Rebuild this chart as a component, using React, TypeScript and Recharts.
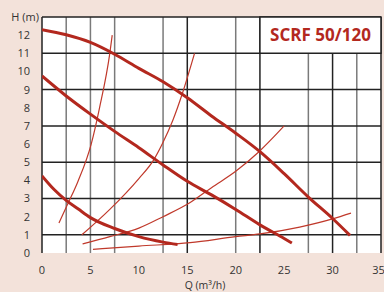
import React from "react";
import {
  LineChart,
  Line,
  XAxis,
  YAxis,
  CartesianGrid,
  ReferenceArea,
} from "recharts";

// pump curves (Q m3/h, H m)
const curveHigh = [
  { q: 0, h: 12.3 }, { q: 2.5, h: 12.02 }, { q: 5, h: 11.6 }, { q: 7.5, h: 10.95 },
  { q: 10, h: 10.17 }, { q: 12.5, h: 9.43 }, { q: 15, h: 8.55 }, { q: 17.5, h: 7.55 },
  { q: 20, h: 6.6 }, { q: 22.5, h: 5.58 }, { q: 25, h: 4.37 }, { q: 27.5, h: 3.08 },
  { q: 30, h: 1.9 }, { q: 31.8, h: 0.97 },
];
const curveMid = [
  { q: 0, h: 9.75 }, { q: 2.5, h: 8.65 }, { q: 5, h: 7.65 }, { q: 7.5, h: 6.7 },
  { q: 10, h: 5.8 }, { q: 12.5, h: 4.85 }, { q: 15, h: 3.95 }, { q: 17.5, h: 3.2 },
  { q: 20, h: 2.4 }, { q: 22.5, h: 1.55 }, { q: 25, h: 0.8 }, { q: 25.8, h: 0.55 },
];
const curveLow = [
  { q: 0, h: 4.25 }, { q: 1.25, h: 3.5 }, { q: 2.5, h: 2.9 }, { q: 3.75, h: 2.42 },
  { q: 5, h: 1.95 }, { q: 7.5, h: 1.35 }, { q: 10, h: 0.9 }, { q: 12.5, h: 0.6 },
  { q: 14, h: 0.47 },
];

// system curves
const sysA = [
  { q: 1.75, h: 1.65 }, { q: 2.7, h: 2.75 }, { q: 3.7, h: 3.93 }, { q: 5.08, h: 6.0 },
  { q: 5.94, h: 8.0 }, { q: 7.0, h: 11.0 }, { q: 7.25, h: 12.0 },
];
const sysB = [
  { q: 4.12, h: 1.0 }, { q: 7, h: 2.4 }, { q: 10, h: 4.1 }, { q: 11.5, h: 5.1 },
  { q: 12.5, h: 6.1 }, { q: 13.5, h: 7.3 }, { q: 14.5, h: 8.8 }, { q: 15.75, h: 11.0 },
];
const sysC = [
  { q: 4.19, h: 0.5 }, { q: 7, h: 0.9 }, { q: 10, h: 1.37 }, { q: 12.5, h: 2.0 },
  { q: 15.3, h: 2.78 }, { q: 17.5, h: 3.6 }, { q: 20, h: 4.5 }, { q: 22.4, h: 5.58 },
  { q: 25, h: 7.0 },
];
const sysD = [
  { q: 5.26, h: 0.2 }, { q: 10, h: 0.38 }, { q: 15.3, h: 0.57 }, { q: 20, h: 0.9 },
  { q: 22.5, h: 1.05 }, { q: 26.6, h: 1.43 }, { q: 30, h: 1.88 }, { q: 31.9, h: 2.2 },
];

const xTicks = [0, 5, 10, 15, 20, 25, 30, 35];
const yTicks = [0, 1, 2, 3, 4, 5, 6, 7, 8, 9, 10, 11, 12];
const hLines = [0, 1, 2, 3, 4, 5, 6, 7, 8, 9, 10, 11, 12, 13];
const vLinesGray = [2.5, 5, 7.5, 10, 12.5, 17.5, 20, 25, 27.5, 32.5];
const vLinesDark = [0, 15, 22.5, 30, 35];

const RED = "#b3281e";
const THIN = "#c0392b";
const FONT = "'Open Sans', sans-serif";

export default function App() {
  const tick = { fontSize: 11, fill: "#333", fontFamily: FONT };
  const pumpLines = [curveHigh, curveMid, curveLow];
  const sysLines = [sysA, sysB, sysC, sysD];
  return (
    <div style={{ position: "absolute", left: 0, top: 0, width: 384, height: 292, background: "#f3e2da" }}>
      <LineChart width={384} height={292} margin={{ top: 17, right: 3, bottom: 9, left: 12 }}>
        <CartesianGrid
          fill="#fff"
          stroke="#7a7a7a"
          strokeWidth={1.5}
          horizontal={false}
          verticalValues={vLinesGray}
        />
        <CartesianGrid
          stroke="#222"
          strokeWidth={1.5}
          horizontalValues={hLines}
          verticalValues={vLinesDark}
        />
        <XAxis
          type="number"
          dataKey="q"
          domain={[0, 35]}
          ticks={xTicks}
          axisLine={false}
          tickLine={false}
          tickMargin={7}
          height={30}
          tick={tick}
          allowDataOverflow
        />
        <YAxis
          type="number"
          dataKey="h"
          domain={[0, 13]}
          ticks={yTicks}
          axisLine={false}
          tickLine={false}
          tickMargin={6}
          width={30}
          tick={tick}
          allowDataOverflow
        />
        <ReferenceArea
          x1={22.5}
          x2={35}
          y1={11}
          y2={13}
          fill="#fff"
          fillOpacity={1}
          stroke="#222"
          strokeWidth={1.5}
          label={{
            value: "SCRF 50/120",
            position: "center",
            fill: RED,
            fontSize: 17,
            fontWeight: 700,
            fontFamily: FONT,
          }}
        />
        {sysLines.map((d, i) => (
          <Line
            key={`s-${i}`}
            data={d}
            dataKey="h"
            type="monotone"
            stroke={THIN}
            strokeWidth={1.2}
            dot={false}
            isAnimationActive={false}
          />
        ))}
        {pumpLines.map((d, i) => (
          <Line
            key={`p-${i}`}
            data={d}
            dataKey="h"
            type="monotone"
            stroke={RED}
            strokeWidth={3}
            dot={false}
            isAnimationActive={false}
          />
        ))}
        <text x={39} y={20.5} textAnchor="end" fontSize={11} fill="#333" fontFamily={FONT}>
          H (m)
        </text>
        <text x={205} y={288.5} textAnchor="middle" fontSize={10.5} fill="#333" fontFamily={FONT}>
          Q (m³/h)
        </text>
      </LineChart>
    </div>
  );
}
